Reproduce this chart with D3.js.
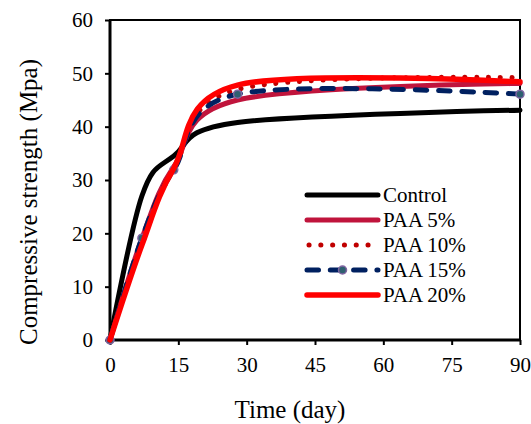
<!DOCTYPE html>
<html>
<head>
<meta charset="utf-8">
<script src="https://cdn.jsdelivr.net/npm/d3@7"></script>
<style>
    body { margin: 0; background: #ffffff; }
    svg { display: block; }
    text { font-family: 'Liberation Serif', serif; }
</style>
</head>
<body>
<svg id="chart"></svg>
<script>
// data
const days      = [0, 7, 14, 28, 90];
const control   = [0, 27.0, 34.5, 40.8, 43.1];
const paa5      = [0, 19.0, 32.5, 45.0, 48.1];
const paa10     = [0, 18.5, 32.0, 47.0, 49.2];
const paa15     = [0, 19.1, 31.9, 46.1, 46.1];
const paa20     = [0, 17.8, 32.2, 47.8, 48.4];
const seriesNames = ['Control', 'PAA 5%', 'PAA 10%', 'PAA 15%', 'PAA 20%'];
const xTicks = [0, 15, 30, 45, 60, 75, 90];
const yTicks = [0, 10, 20, 30, 40, 50, 60];

class Chart {
    constructor (selector) {
        this._selector = selector;
        this.w = 531;
        this.h = 424;
        this.box = { left: 110, right: 520, top: 20, bottom: 340 };
        this.font = "'Liberation Serif', serif";

        this.svg = d3.select(selector)
            .attr('width', this.w)
            .attr('height', this.h);

        this.x = d3.scaleLinear().domain([0, 90]).range([this.box.left, this.box.right]);
        this.y = d3.scaleLinear().domain([0, 60]).range([this.box.bottom, this.box.top]);
    }
    styles () {
        return [
            { name: seriesNames[0], values: control, color: '#000000', width: 5, dash: null },
            { name: seriesNames[1], values: paa5,    color: '#C0143C', width: 5, dash: null },
            { name: seriesNames[2], values: paa10,   color: '#C00000', width: 5, dash: '0.1 11.7' },
            { name: seriesNames[3], values: paa15,   color: '#002060', width: 5, dash: '11.5 11.8', marker: true },
            { name: seriesNames[4], values: paa20,   color: '#FF0000', width: 5.5, dash: null },
        ];
    }
    drawAxes () {
        let svg = this.svg;
        let box = this.box;

        let xAxis = d3.axisBottom(this.x).tickValues(xTicks).tickSize(5).tickPadding(12);
        let yAxis = d3.axisLeft(this.y).tickValues(yTicks).tickSize(5).tickPadding(12);

        let gx = svg.append('g')
            .attr('transform', 'translate(0,' + box.bottom + ')')
            .call(xAxis);
        let gy = svg.append('g')
            .attr('transform', 'translate(' + box.left + ',0)')
            .call(yAxis);

        for (let g of [gx, gy]) {
            g.attr('font-family', null).attr('font-size', null);
            g.select('.domain').remove();
            g.selectAll('line').attr('stroke', '#000').attr('stroke-width', 2);
            g.selectAll('text')
                .attr('fill', '#000')
                .style('font-family', this.font)
                .style('font-size', '21px');
        }

        // frame
        svg.append('rect')
            .attr('x', box.left)
            .attr('y', box.top)
            .attr('width', box.right - box.left)
            .attr('height', box.bottom - box.top)
            .attr('fill', 'none')
            .attr('stroke', '#000')
            .attr('stroke-width', 2);
        svg.append('line')
            .attr('x1', box.left).attr('x2', box.left)
            .attr('y1', box.top).attr('y2', box.bottom + 1)
            .attr('stroke', '#000').attr('stroke-width', 3);
        svg.append('line')
            .attr('x1', box.left - 1).attr('x2', box.right + 1)
            .attr('y1', box.bottom).attr('y2', box.bottom)
            .attr('stroke', '#000').attr('stroke-width', 3);

        svg.append('text')
            .attr('x', 290)
            .attr('y', 418)
            .attr('text-anchor', 'middle')
            .style('font-family', this.font)
            .style('font-size', '25px')
            .text('Time (day)');

        svg.append('text')
            .attr('transform', 'translate(37,202) rotate(-90)')
            .attr('text-anchor', 'middle')
            .style('font-family', this.font)
            .style('font-size', '25px')
            .text('Compressive strength (Mpa)');
    }
    drawLines () {
        let svg = this.svg;
        let line = d3.line()
            .x((d) => { return this.x(d[0]); })
            .y((d) => { return this.y(d[1]); })
            .curve(d3.curveCardinal.tension(0));

        for (let s of this.styles()) {
            let pts = days.map((d, i) => { return [d, s.values[i]]; });
            let path = svg.append('path')
                .datum(pts)
                .attr('d', line)
                .attr('fill', 'none')
                .attr('stroke', s.color)
                .attr('stroke-width', s.width)
                .attr('stroke-linecap', 'round')
                .attr('stroke-linejoin', 'round');
            if (s.dash)
                path.attr('stroke-dasharray', s.dash);

            if (s.marker)
                svg.selectAll('circle.m15')
                    .data(pts)
                    .enter()
                    .append('circle')
                    .attr('class', 'm15')
                    .attr('cx', (d) => { return this.x(d[0]); })
                    .attr('cy', (d) => { return this.y(d[1]); })
                    .attr('r', 4)
                    .attr('fill', '#2E6070')
                    .attr('stroke', '#8064A2')
                    .attr('stroke-width', 1.5);
        }
    }
    drawLegend () {
        let svg = this.svg;
        let x0 = 307, x1 = 378, y0 = 195, step = 25;

        let rows = svg.selectAll('g.legend')
            .data(this.styles())
            .enter()
            .append('g')
            .attr('class', 'legend')
            .attr('transform', (d, i) => { return 'translate(0,' + (y0 + i * step) + ')'; });

        rows.append('line')
            .attr('x1', (d) => { return d.dash && d.dash.indexOf('0.1') === 0 ? x0 + 2 : x0; })
            .attr('x2', x1)
            .attr('y1', 0)
            .attr('y2', 0)
            .attr('stroke', (d) => { return d.color; })
            .attr('stroke-width', (d) => { return d.width; })
            .attr('stroke-linecap', 'round')
            .attr('stroke-dasharray', (d) => { return d.dash; });

        rows.filter((d) => { return d.marker; })
            .append('circle')
            .attr('cx', (x0 + x1) / 2)
            .attr('cy', 0)
            .attr('r', 4)
            .attr('fill', '#2E6070')
            .attr('stroke', '#8064A2')
            .attr('stroke-width', 1.5);

        rows.append('text')
            .attr('x', x1 + 5)
            .attr('y', 7)
            .style('font-family', this.font)
            .style('font-size', '21px')
            .text((d) => { return d.name; });
    }
    draw () {
        this.drawAxes();
        this.drawLines();
        this.drawLegend();
    }
}

new Chart('#chart').draw();
</script>
</body>
</html>
